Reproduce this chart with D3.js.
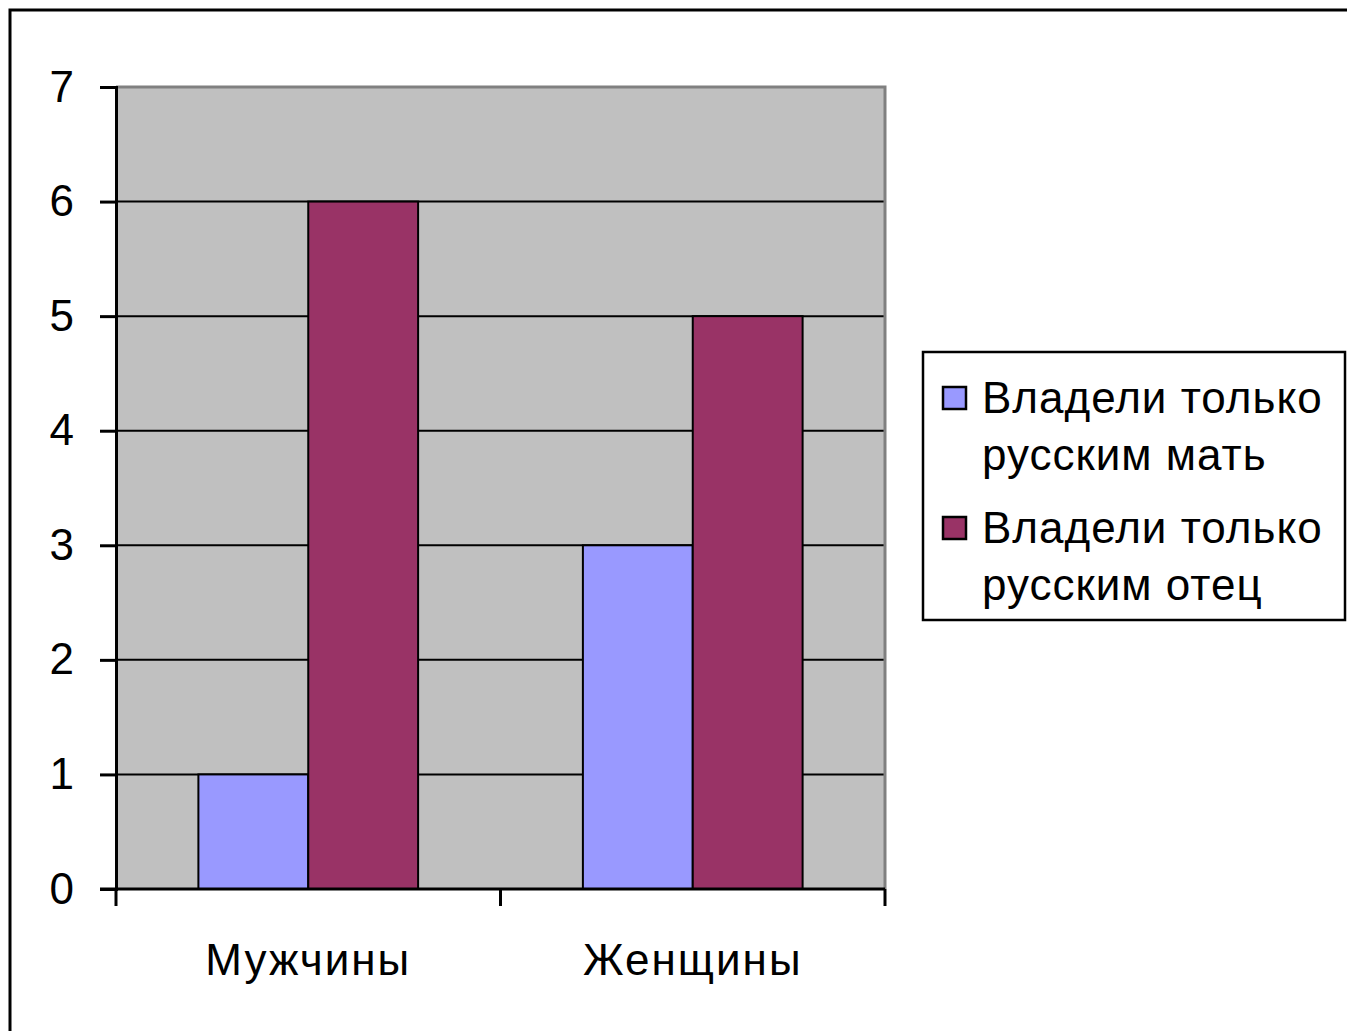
<!DOCTYPE html>
<html>
<head>
<meta charset="utf-8">
<script src="https://cdn.jsdelivr.net/npm/d3@7"></script>
<style>
  body { margin: 0; background: #fff; }
  svg { display: block; font-family: "Liberation Sans", Arial, sans-serif; }
</style>
</head>
<body>
<div id="chart"></div>
<script>
// data
var categories = ["Мужчины", "Женщины"]
var seriesNames = ["Владели только русским мать", "Владели только русским отец"]
var seriesLines = [["Владели только", "русским мать"], ["Владели только", "русским отец"]]
var motherValues = [1, 3]
var fatherValues = [6, 5]
var yTicks = [0, 1, 2, 3, 4, 5, 6, 7]
var colors = ["#9999FF", "#993366"]

var width = 1347, height = 1031
var plot = {left: 116, right: 885, top: 87, bottom: 889}

var svg = d3.select("#chart").append("svg")
  .attr("width", width)
  .attr("height", height)

// outer frame (runs off the right/bottom edge)
svg.append("rect")
  .attr("x", 10).attr("y", 10)
  .attr("width", width + 20).attr("height", height + 20)
  .attr("fill", "#fff")
  .attr("stroke", "#000")
  .attr("stroke-width", 3)

var y = d3.scaleLinear().domain([0, 7]).range([plot.bottom, plot.top])
var x0 = d3.scaleBand().domain(categories).range([plot.left, plot.right])
var x1 = d3.scaleBand().domain(seriesNames).range([0, x0.bandwidth()]).paddingOuter(0.75)

// plot background
svg.append("rect")
  .attr("x", plot.left).attr("y", plot.top)
  .attr("width", plot.right - plot.left).attr("height", plot.bottom - plot.top)
  .attr("fill", "#C0C0C0")

// grid lines
svg.append("g").selectAll("line")
  .data(yTicks.filter(function(d) { return d > 0 && d < 7 }))
  .enter().append("line")
  .attr("x1", plot.left).attr("x2", plot.right)
  .attr("y1", function(d) { return y(d) }).attr("y2", function(d) { return y(d) })
  .attr("stroke", "#000").attr("stroke-width", 2)

// top/right plot border
svg.append("path")
  .attr("d", `M${plot.left},${plot.top}H${plot.right}V${plot.bottom}`)
  .attr("fill", "none").attr("stroke", "#808080").attr("stroke-width", 3)

// bars
var rows = categories.map(function(c, i) {
  return {cat: c, values: [motherValues[i], fatherValues[i]]}
})
var group = svg.append("g").selectAll("g")
  .data(rows)
  .enter().append("g")
  .attr("transform", function(d) { return `translate(${x0(d.cat)},0)` })

group.selectAll("rect")
  .data(function(d) { return d.values.map(function(v, j) { return {name: seriesNames[j], value: v, j: j} }) })
  .enter().append("rect")
  .attr("x", function(d) { return x1(d.name) })
  .attr("width", x1.bandwidth())
  .attr("y", function(d) { return y(d.value) })
  .attr("height", function(d) { return y(0) - y(d.value) })
  .attr("fill", function(d) { return colors[d.j] })
  .attr("stroke", "#000").attr("stroke-width", 2)

// y axis
var yAxis = svg.append("g")
  .attr("transform", `translate(${plot.left},0)`)
  .call(d3.axisLeft(y).tickValues(yTicks).tickFormat(d3.format("d")).tickSize(16).tickPadding(26))
yAxis.select(".domain").attr("stroke", "#000").attr("stroke-width", 3)
yAxis.selectAll(".tick line").attr("stroke", "#000").attr("stroke-width", 3)
yAxis.selectAll("text").attr("font-size", 44).attr("fill", "#000")
  .attr("font-family", "Liberation Sans, Arial, sans-serif")

// x axis
var xTicks = [plot.left].concat(categories.map(function(c) { return x0(c) + x0.bandwidth() }))
var xAxis = svg.append("g")
  .attr("transform", `translate(0,${plot.bottom})`)
xAxis.append("line")
  .attr("x1", plot.left - 16).attr("x2", plot.right)
  .attr("stroke", "#000").attr("stroke-width", 3)
xAxis.selectAll(".xt")
  .data(xTicks).enter().append("line")
  .attr("x1", function(d) { return d }).attr("x2", function(d) { return d })
  .attr("y1", 0).attr("y2", 17)
  .attr("stroke", "#000").attr("stroke-width", 3)
xAxis.selectAll("text")
  .data(categories).enter().append("text")
  .attr("x", function(d) { return x0(d) + x0.bandwidth() / 2 })
  .attr("y", 86)
  .attr("text-anchor", "middle")
  .attr("font-size", 44)
  .attr("letter-spacing", 2)
  .text(function(d) { return d })

// legend
svg.append("rect")
  .attr("x", 923).attr("y", 352).attr("width", 422).attr("height", 268)
  .attr("fill", "#fff").attr("stroke", "#000").attr("stroke-width", 2.5)

seriesLines.forEach(function(lines, i) {
  var top = 385 + i * 130
  svg.append("rect")
    .attr("x", 943).attr("y", top + 2).attr("width", 23).attr("height", 22)
    .attr("fill", colors[i]).attr("stroke", "#000").attr("stroke-width", 2.5)
  lines.forEach(function(t, k) {
    svg.append("text")
      .attr("x", 982).attr("y", top + 28 + k * 57)
      .attr("font-size", 44)
      .attr("letter-spacing", 1)
      .text(t)
  })
})
</script>
</body>
</html>
